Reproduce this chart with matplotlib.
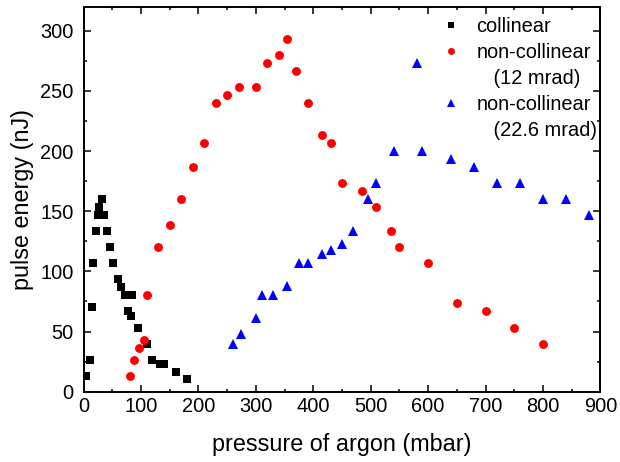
import matplotlib
matplotlib.use("Agg")
import matplotlib.pyplot as plt
from matplotlib.lines import Line2D
from matplotlib.ticker import MultipleLocator

plt.rcParams['font.family'] = ['Liberation Sans', 'DejaVu Sans']

# collinear geometry
collinear_p = [5, 11, 14, 17, 22, 25, 27, 32, 36, 41, 46, 52, 60, 66, 73, 84,
               78, 82, 94, 110, 120, 133, 140, 161, 180]
collinear_e = [13.3, 26.7, 70, 106.7, 133.3, 146.7, 153.3, 160, 146.7, 133.3,
               120, 106.7, 93.3, 86.7, 80, 80, 66.7, 63.3, 53.3, 40, 26.7,
               23.3, 23.3, 16, 10.7]

# non-collinear, 12 mrad
nc12_p = [80, 88, 96, 105, 110, 130, 150, 170, 190, 210, 230, 250, 270, 300,
          320, 340, 355, 370, 390, 415, 430, 450, 485, 510, 535, 550, 600,
          650, 700, 750, 800]
nc12_e = [13.3, 26.7, 36.7, 43.3, 80, 120, 138.7, 160, 186.7, 206.7, 240,
          246.7, 253.3, 253.3, 273.3, 280, 293.3, 266.7, 240, 213.3, 206.7,
          173.3, 166.7, 153.3, 133.3, 120, 106.7, 73.3, 66.7, 53.3, 40]

# non-collinear, 22.6 mrad
nc22_p = [260, 275, 300, 310, 330, 355, 375, 390, 415, 430, 450, 470, 495,
          510, 540, 580, 590, 640, 680, 720, 760, 800, 840, 880]
nc22_e = [40, 48, 61.3, 80, 80, 88, 106.7, 106.7, 114.7, 118, 122.7, 133.3,
          160, 173.3, 200, 273.3, 200, 193.3, 186.7, 173.3, 173.3, 160, 160,
          146.7]

fig = plt.figure(figsize=(6.2, 4.62), dpi=100)
ax = fig.add_axes([0.1348, 0.1522, 0.8336, 0.8333])

ax.plot(collinear_p, collinear_e, 's', color='black', ms=5.8, mew=0,
        linestyle='none')
ax.plot(nc12_p, nc12_e, 'o', color='#ff0000', ms=6.4, mew=0,
        linestyle='none')
ax.plot(nc22_p, nc22_e, '^', color='#0000ff', ms=7.2, mew=0,
        linestyle='none')

ax.set_xlim(0, 900)
ax.set_ylim(0, 320)
ax.xaxis.set_major_locator(MultipleLocator(100))
ax.xaxis.set_minor_locator(MultipleLocator(50))
ax.yaxis.set_major_locator(MultipleLocator(50))
ax.yaxis.set_minor_locator(MultipleLocator(25))

ax.tick_params(which='both', direction='in', top=True, right=True,
               width=1.1, labelsize=14.4)
ax.tick_params(axis='x', which='major', pad=4)
ax.tick_params(axis='y', which='major', pad=7)
ax.tick_params(which='major', length=5)
ax.tick_params(which='minor', length=2.5)
for sp in ax.spines.values():
    sp.set_linewidth(1.4)

ax.set_xlabel('pressure of argon (mbar)', fontsize=16.8, labelpad=12)
ax.set_ylabel('pulse energy (nJ)', fontsize=16.8, labelpad=5)

blank = Line2D([], [], linestyle='none', marker='none')
handles = [
    Line2D([], [], linestyle='none', marker='s', color='black', ms=4.6, mew=0),
    Line2D([], [], linestyle='none', marker='o', color='#ff0000', ms=5.0, mew=0),
    blank,
    Line2D([], [], linestyle='none', marker='^', color='#0000ff', ms=5.4, mew=0),
    blank,
]
labels = ['collinear', 'non-collinear', '   (12 mrad)', 'non-collinear',
          '   (22.6 mrad)']
ax.legend(handles, labels, loc='upper right', bbox_to_anchor=(1.012, 1.0),
          frameon=False, fontsize=14.4, handlelength=1.0, handletextpad=0.8,
          labelspacing=0.36, borderpad=0.5, borderaxespad=0.0)

fig.savefig('out.png', dpi=100)
